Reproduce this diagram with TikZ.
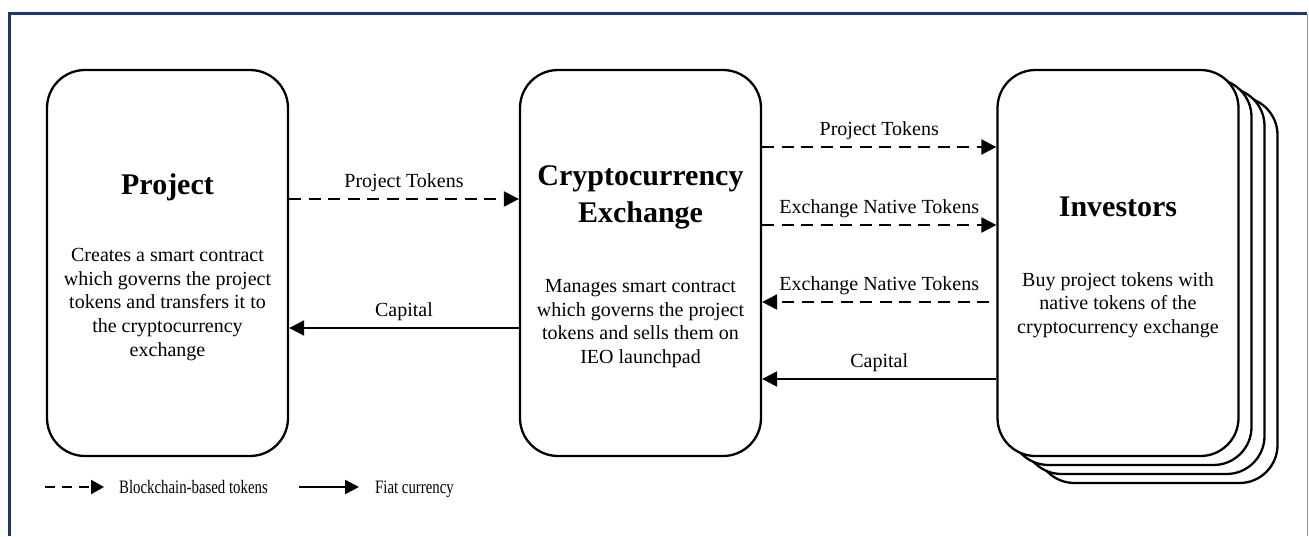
\documentclass[tikz,border=0pt]{standalone}
\usepackage{fontspec}
\setmainfont{Liberation Serif}
\usetikzlibrary{arrows.meta,positioning}
\definecolor{navy}{HTML}{1F3864}

\tikzset{
  box/.style={draw, line width=2.3pt, rounded corners=38pt, fill=white,
    minimum width=241pt, minimum height=386pt, inner sep=0pt},
  ttl/.style={font=\fontsize{30}{37}\selectfont\bfseries, align=center, inner sep=0pt},
  desc/.style={font=\fontsize{20}{23.7}\selectfont, align=center, inner sep=0pt},
  lbl/.style={font=\fontsize{20}{24}\selectfont, inner sep=0pt, text depth=4pt, above=6pt},
  tok/.style={line width=2.3pt, dash pattern=on 12pt off 7.5pt,
    -{Triangle[length=15pt,width=15pt]}},
  fiat/.style={line width=2.3pt, -{Triangle[length=15pt,width=15pt]}},
  legtxt/.style={font=\fontsize{19}{22}\selectfont, inner sep=0pt,
    text height=13pt, text depth=0pt}
}

\begin{document}
\begin{tikzpicture}[x=1pt,y=-1pt]
\useasboundingbox (0,0) rectangle (1309,536);
% frame
\draw[navy, line width=3pt] (9.5,536) -- (9.5,13.5) -- (1307,13.5);
\draw[navy!55, line width=1pt] (1307,13.5) -- (1307,536);

% the three parties
\node[box] (proj) at (167.5,263) {};
\node[box] (exch) at (640.5,263) {};
\coordinate (invc) at (1118,263);
\foreach \k in {3,2,1}
  \node[box] (inv\k) at ([shift={(13*\k,9*\k)}]invc) {};
\node[box] (inv) at (invc) {};

\node[ttl] (projttl) at (167.5,187) {Project};
\node[desc] (projtxt) at (167.5,304.5) {Creates a smart contract\\which governs the project\\tokens and transfers it to\\the cryptocurrency\\exchange};

\node[ttl] (exchttl) at (640.5,197.5) {Cryptocurrency\\Exchange};
\node[desc] (exchtxt) at (640.5,323.5) {Manages smart contract\\which governs the project\\tokens and sells them on\\IEO launchpad};

\node[ttl] (invttl) at (1118,207) {Investors};
\node[desc] (invtxt) at (1118,305) {Buy project tokens with\\native tokens of the\\cryptocurrency exchange};

% flows
\draw[tok] ([yshift=64pt]proj.east) -- node[lbl] (l1) {Project Tokens} ([yshift=64pt]exch.west);
\draw[fiat] ([yshift=-65pt]exch.west) -- node[lbl] (l2) {Capital} ([yshift=-65pt]proj.east);
\draw[tok] ([yshift=116pt]exch.east) -- node[lbl] (l3) {Project Tokens} ([yshift=116pt]inv.west);
\draw[tok] ([yshift=38pt]exch.east) -- node[lbl] (l4) {Exchange Native Tokens} ([yshift=38pt]inv.west);
\draw[tok, shorten <=7pt] ([yshift=-39pt]inv.west) -- node[lbl] (l5) {Exchange Native Tokens} ([yshift=-39pt]exch.east);
\draw[fiat] ([yshift=-116pt]inv.west) -- node[lbl] (l6) {Capital} ([yshift=-116pt]exch.east);

% legend
\coordinate (k1a) at (45,487);
\coordinate (k1b) at (104,487);
\draw[line width=2.3pt, dash pattern=on 10pt off 7pt, -{Triangle[length=13pt,width=14pt]}] (k1a) -- (k1b);
\node[legtxt, right=15pt of k1b] (k1t) {\scalebox{0.78}[1]{Blockchain-based tokens}};
\coordinate (k2a) at (299,487);
\coordinate (k2b) at (359,487);
\draw[line width=2.3pt, -{Triangle[length=14pt,width=14pt]}] (k2a) -- (k2b);
\node[legtxt, right=16pt of k2b] (k2t) {\scalebox{0.78}[1]{Fiat currency}};
\end{tikzpicture}
\end{document}
